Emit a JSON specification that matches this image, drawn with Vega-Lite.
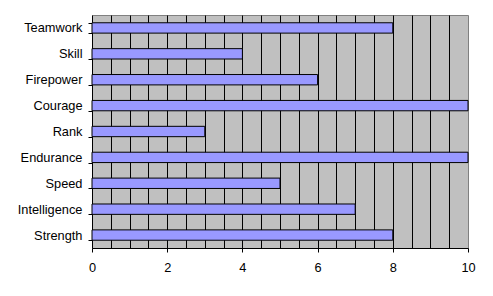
{
  "$schema": "https://vega.github.io/schema/vega-lite/v6.json",
  "autosize": "none",
  "width": 376,
  "height": 233,
  "padding": {"left": 92, "top": 15, "right": 25, "bottom": 48},
  "background": "white",
  "config": {
    "view": {"fill": "#C0C0C0", "stroke": "#808080", "strokeWidth": 1},
    "font": "Liberation Sans",
    "axis": {"labelFont": "Liberation Sans", "labelFontSize": 12.8, "labelColor": "black", "domainColor": "black", "tickColor": "black", "title": null}
  },
  "data": {
    "values": [
      {"attribute": "Teamwork", "value": 8},
      {"attribute": "Skill", "value": 4},
      {"attribute": "Firepower", "value": 6},
      {"attribute": "Courage", "value": 10},
      {"attribute": "Rank", "value": 3},
      {"attribute": "Endurance", "value": 10},
      {"attribute": "Speed", "value": 5},
      {"attribute": "Intelligence", "value": 7},
      {"attribute": "Strength", "value": 8}
    ]
  },
  "mark": {"type": "bar", "fill": "#9999FF", "stroke": "black", "strokeWidth": 1},
  "encoding": {
    "y": {
      "field": "attribute",
      "type": "nominal",
      "sort": null,
      "scale": {"paddingInner": 0.6, "paddingOuter": 0.3},
      "axis": {
        "tickBand": "extent",
        "tickSize": 4,
        "labelPadding": 6,
        "grid": false,
        "domain": true,
        "domainColor": "black"
      }
    },
    "x": {
      "field": "value",
      "type": "quantitative",
      "scale": {"domain": [0, 10], "nice": false},
      "axis": {
        "values": [0, 0.5, 1, 1.5, 2, 2.5, 3, 3.5, 4, 4.5, 5, 5.5, 6, 6.5, 7, 7.5, 8, 8.5, 9, 9.5, 10],
        "format": "~g",
        "labelExpr": "datum.value % 2 === 0 ? datum.label : ''",
        "grid": true,
        "gridColor": {"condition": {"test": "datum.value > 0 && datum.value < 10", "value": "black"}, "value": "transparent"},
        "gridOpacity": 1,
        "tickSize": 4,
        "tickOpacity": {"condition": {"test": "datum.value % 2 === 0", "value": 1}, "value": 0},
        "labelPadding": 9,
        "labelFlush": false,
        "labelOverlap": false,
        "domainColor": "black"
      }
    }
  }
}
